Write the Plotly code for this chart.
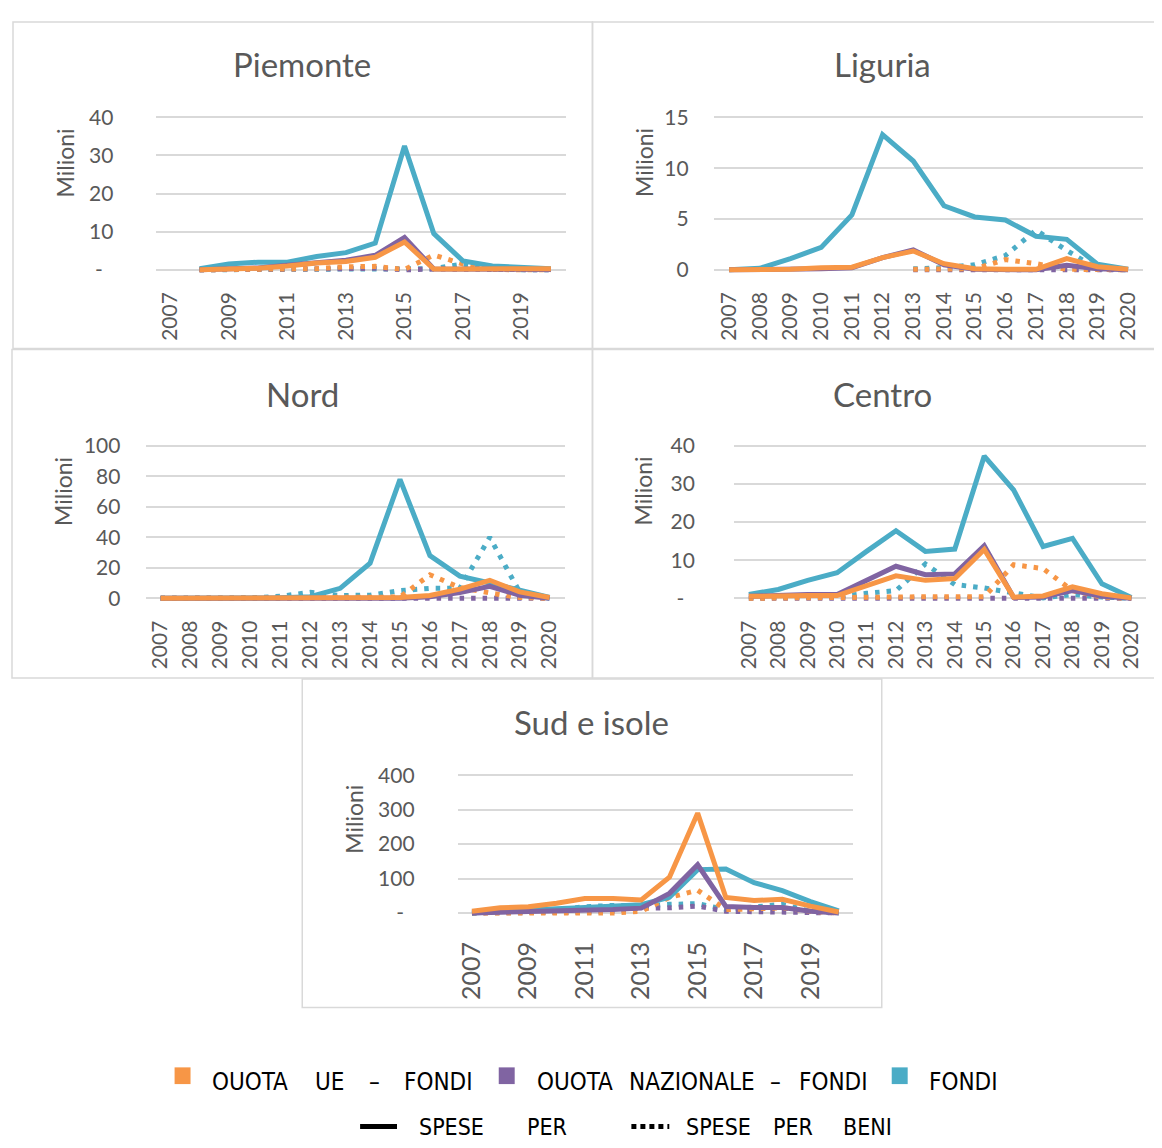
import plotly.graph_objects as go

# ---------------- DATA ----------------
years = ["2007", "2008", "2009", "2010", "2011", "2012", "2013",
         "2014", "2015", "2016", "2017", "2018", "2019", "2020"]

# Piemonte (millions)
pie_ue = [None, 0.0, 0.2, 0.4, 1.0, 1.8, 2.2, 3.3, 7.3, 0.2, 0.2, 0.2, 0.3, 0.3]
pie_naz = [None, 0.0, 0.2, 0.5, 1.2, 2.0, 2.5, 3.8, 8.5, 0.2, 0.1, 0.1, 0.1, 0.1]
pie_fondi = [None, 0.3, 1.5, 2.0, 2.0, 3.5, 4.5, 7.0, 32.5, 9.5, 2.3, 1.0, 0.5, 0.3]
pie_ue_beni = [None, 0.0, 0.0, 0.0, 0.1, 0.3, 0.8, 0.9, 0.1, 3.9, 1.5, 0.1, 0.0, 0.0]
pie_naz_beni = [None, 0.0, 0.0, 0.0, 0.1, 0.2, 0.3, 0.4, 0.0, 0.2, 0.2, 0.0, 0.0, 0.0]
pie_fondi_beni = [None, 0.0, 0.0, 0.0, 0.0, 0.0, 0.0, 0.0, 0.0, 0.3, 1.5, 0.3, 0.0, 0.0]

# Liguria
lig_ue = [0.0, 0.0, 0.05, 0.2, 0.25, 1.2, 1.85, 0.6, 0.1, 0.05, 0.05, 1.1, 0.3, 0.05]
lig_naz = [0.0, 0.0, 0.0, 0.1, 0.2, 1.2, 1.95, 0.5, 0.05, 0.0, 0.0, 0.45, 0.1, 0.0]
lig_fondi = [0.0, 0.15, 1.1, 2.2, 5.4, 13.3, 10.7, 6.3, 5.2, 4.9, 3.3, 3.0, 0.55, 0.05]
lig_ue_beni = [None, None, None, None, None, None, 0.05, 0.05, 0.1, 1.0, 0.6, 0.05, 0.0, 0.0]
lig_naz_beni = [None, None, None, None, None, None, 0.0, 0.0, 0.0, 0.0, 0.0, 0.0, 0.0, 0.0]
lig_fondi_beni = [None, None, None, None, None, None, 0.1, 0.2, 0.5, 1.4, 3.9, 1.9, 0.1, 0.0]

# Nord
nord_ue = [0.0, 0.0, 0.0, 0.0, 0.0, 0.0, 0.2, 0.3, 0.5, 1.8, 6.0, 11.8, 4.2, 0.5]
nord_naz = [0.0, 0.0, 0.0, 0.0, 0.0, 0.0, 0.0, 0.0, 0.0, 1.0, 3.8, 7.8, 2.0, 0.0]
nord_fondi = [0.0, 0.0, 0.5, 0.5, 0.3, 1.0, 6.5, 23.0, 78.0, 28.0, 14.5, 10.0, 5.0, 0.5]
nord_ue_beni = [0.0, 0.0, 0.0, 0.0, 0.0, 0.0, 0.0, 0.0, 0.8, 15.4, 7.0, 3.5, 0.5, 0.0]
nord_naz_beni = [0.0, 0.0, 0.0, 0.0, 0.0, 0.0, 0.0, 0.0, 0.0, 0.2, 0.3, 0.3, 0.3, 0.0]
nord_fondi_beni = [0.0, 0.0, 0.0, 0.0, 1.3, 3.9, 1.8, 2.0, 5.0, 6.5, 6.5, 40.0, 4.0, 0.0]

# Centro
cen_ue = [0.5, 0.7, 0.7, 0.7, 3.3, 5.9, 4.7, 5.2, 12.8, 0.3, 0.6, 3.0, 1.2, 0.1]
cen_naz = [0.5, 0.8, 1.0, 1.0, 4.8, 8.4, 6.2, 6.4, 13.8, 0.2, 0.3, 2.0, 0.5, 0.0]
cen_fondi = [1.0, 2.3, 4.7, 6.7, 12.3, 17.7, 12.3, 12.9, 37.3, 28.4, 13.6, 15.7, 3.8, 0.2]
cen_ue_beni = [0.0, 0.1, 0.1, 0.2, 0.5, 0.5, 0.4, 0.4, 0.4, 8.8, 7.8, 2.0, 0.3, 0.0]
cen_naz_beni = [0.0, 0.0, 0.0, 0.0, 0.0, 0.0, 0.0, 0.0, 0.3, 0.2, 0.2, 0.2, 0.1, 0.0]
cen_fondi_beni = [0.1, 0.2, 0.3, 0.4, 1.3, 2.0, 9.0, 3.6, 2.7, 1.4, 0.1, 1.0, 0.3, 0.0]

# Sud e isole
sud_ue = [5, 15, 18, 28, 42, 42, 38, 104, 290, 45, 36, 40, 20, 3]
sud_naz = [0, 2, 3, 5, 5, 10, 14, 57, 140, 19, 16, 16, 5, 0]
sud_fondi = [0, 5, 8, 12, 16, 21, 24, 46, 126, 128, 88, 65, 33, 6]
sud_ue_beni = [0, 0, 0, 0, 0, 0, 5, 45, 66, 10, 12, 15, 5, 0]
sud_naz_beni = [0, 0, 0, 0, 2, 5, 14, 15, 20, 5, 3, 3, 2, 0]
sud_fondi_beni = [0, 2, 5, 10, 18, 22, 20, 25, 27, 10, 18, 25, 5, 0]

titles = ["Piemonte", "Liguria", "Nord", "Centro", "Sud e isole"]
y_ticks = [[0, 10, 20, 30, 40], [0, 5, 10, 15], [0, 20, 40, 60, 80, 100],
           [0, 10, 20, 30, 40], [0, 100, 200, 300, 400]]
y_ticktext = [["-\u2002", "10", "20", "30", "40"], ["0", "5", "10", "15"],
              ["0", "20", "40", "60", "80", "100"],
              ["-\u2002", "10", "20", "30", "40"],
              ["-\u2002", "100", "200", "300", "400"]]
x_ticks_sparse = ["2007", "2009", "2011", "2013", "2015", "2017", "2019"]
legend_row1 = ["OUOTA", "UE", "\u2013", "FONDI", "OUOTA", "NAZIONALE", "\u2013", "FONDI", "FONDI"]
legend_row2 = ["SPESE", "PER", "SPESE", "PER", "BENI"]

series = [
    (pie_ue, pie_naz, pie_fondi, pie_ue_beni, pie_naz_beni, pie_fondi_beni),
    (lig_ue, lig_naz, lig_fondi, lig_ue_beni, lig_naz_beni, lig_fondi_beni),
    (nord_ue, nord_naz, nord_fondi, nord_ue_beni, nord_naz_beni, nord_fondi_beni),
    (cen_ue, cen_naz, cen_fondi, cen_ue_beni, cen_naz_beni, cen_fondi_beni),
    (sud_ue, sud_naz, sud_fondi, sud_ue_beni, sud_naz_beni, sud_fondi_beni),
]

# ---------------- LAYOUT / STYLE ----------------
W, H = 1162, 1148
OFF = 8  # the page body adds an 8px margin: compensate so the picture lines up
ORANGE, PURPLE, BLUE = "#f79646", "#8064a2", "#4bacc6"
GRID = "#d9d9d9"
TXT = "#595959"
FONT = "Lato, Open Sans, sans-serif"
LEG_FONT = "Liberation Sans Narrow, DejaVu Sans Condensed, Liberation Sans, sans-serif"


def fx(px):
    return (px - OFF) / W


def fy(py):
    return 1 - (py - OFF) / H


# plot area pixel geometry: (x_left, x_right, y_top_grid, y_zero, ymax, ytick_gap, xtick_gap, xfont, sparse)
geom = [
    (153, 564, 107, 262, 40, 40, 16, 21, True),
    (712.6, 1143.4, 107, 262, 15, 23, 16, 21, False),
    (143, 563, 441, 596, 100, 23, 16, 21, False),
    (733, 1146, 441, 596, 40, 37, 16, 21, False),
    (456, 852, 776, 916, 400, 41, 21, 25, True),
]
title_pos = [(300, 53), (882, 53), (300, 388), (882, 388), (590, 722)]
milioni_pos = [(62, 153), (642, 153), (60, 487), (642, 487), (351, 821)]
boxes = [(10, 10, 591, 342), (591, 10, 1163, 342), (9, 343, 591, 677),
         (591, 343, 1163, 677), (300, 678, 881, 1012)]

fig = go.Figure()
layout = dict(width=W, height=H, margin=dict(l=0, r=0, t=0, b=0),
              paper_bgcolor="white", plot_bgcolor="white", showlegend=False)

EXT_B, EXT_T = 4, 2
LW = 5
DOT = "4.5px,7px"

for i, ((x0, x1, yt, yz, ymax, ygap, xgap, xfont, sparse), s) in enumerate(zip(geom, series)):
    n = i + 1
    xa = "xaxis" if n == 1 else f"xaxis{n}"
    ya = "yaxis" if n == 1 else f"yaxis{n}"
    xref = "x" if n == 1 else f"x{n}"
    yref = "y" if n == 1 else f"y{n}"
    h = yz - yt
    layout[xa] = dict(domain=[fx(x0), fx(x1)], anchor=yref, type="category",
                      categoryorder="array", categoryarray=years,
                      range=[-0.5, len(years) - 0.5],
                      showgrid=False, zeroline=False, showline=False,
                      ticks="outside", ticklen=max(xgap - EXT_B - 3, 1),
                      tickcolor="rgba(0,0,0,0)", tickangle=-90,
                      tickvals=x_ticks_sparse if sparse else years,
                      tickfont=dict(family=FONT, size=xfont, color=TXT))
    layout[ya] = dict(domain=[fy(yz + EXT_B), fy(yt - EXT_T)], anchor=xref,
                      range=[-ymax * EXT_B / h, ymax * (1 + EXT_T / h)],
                      tickvals=y_ticks[i], ticktext=y_ticktext[i],
                      showgrid=True, gridcolor=GRID, gridwidth=1.5,
                      zeroline=False, showline=False,
                      ticks="outside", ticklen=ygap - 3, tickcolor="rgba(0,0,0,0)",
                      tickfont=dict(family=FONT, size=21, color=TXT))
    ue, naz, fondi, ue_b, naz_b, fondi_b = s
    for vals, col, dash in [(fondi_b, BLUE, DOT), (naz_b, PURPLE, DOT), (ue_b, ORANGE, DOT),
                            (fondi, BLUE, "solid"), (naz, PURPLE, "solid"), (ue, ORANGE, "solid")]:
        fig.add_trace(go.Scatter(x=years, y=vals, mode="lines", xaxis=xref, yaxis=yref,
                                 line=dict(color=col, width=LW, dash=dash),
                                 hoverinfo="skip"))

annotations = []
shapes = []
for (tx, ty), t in zip(title_pos, titles):
    annotations.append(dict(x=fx(tx), y=fy(ty), xref="paper", yref="paper", text=t,
                            showarrow=False, xanchor="center", yanchor="middle",
                            font=dict(family=FONT, size=33, color=TXT)))
for (mx, my) in milioni_pos:
    annotations.append(dict(x=fx(mx), y=fy(my), xref="paper", yref="paper", text="Milioni",
                            showarrow=False, textangle=-90, xanchor="center", yanchor="middle",
                            font=dict(family=FONT, size=23, color=TXT)))
for (bx0, by0, bx1, by1) in boxes:
    shapes.append(dict(type="rect", xref="paper", yref="paper", x0=fx(bx0), x1=fx(bx1),
                       y0=fy(by1), y1=fy(by0), line=dict(color=GRID, width=1.5),
                       fillcolor="rgba(0,0,0,0)", layer="below"))

# legend (drawn manually)
row1_x = [248, 327, 372, 437, 573, 691, 774, 833, 963]
row2_x = [450, 545, 717, 792, 867]
for w, lx in zip(legend_row1, row1_x):
    annotations.append(dict(x=fx(lx), y=fy(1088), xref="paper", yref="paper", text=w,
                            showarrow=False, xanchor="center", yanchor="middle",
                            font=dict(family=LEG_FONT, size=24, color="#000000")))
for w, lx in zip(legend_row2, row2_x):
    annotations.append(dict(x=fx(lx), y=fy(1149), xref="paper", yref="paper", text=w,
                            showarrow=False, xanchor="center", yanchor="bottom",
                            font=dict(family=LEG_FONT, size=23, color="#000000")))
for (sx, col) in [(172, ORANGE), (497, PURPLE), (891, BLUE)]:
    shapes.append(dict(type="rect", xref="paper", yref="paper", x0=fx(sx), x1=fx(sx + 16),
                       y0=fy(1090), y1=fy(1073), fillcolor=col, line=dict(width=0)))
shapes.append(dict(type="line", xref="paper", yref="paper", x0=fx(358), x1=fx(395),
                   y0=fy(1133), y1=fy(1133), line=dict(color="black", width=5)))
shapes.append(dict(type="line", xref="paper", yref="paper", x0=fx(630), x1=fx(668),
                   y0=fy(1133), y1=fy(1133), line=dict(color="black", width=5, dash="5px,4px")))

layout["annotations"] = annotations
layout["shapes"] = shapes
fig.update_layout(**layout)
fig.write_html("out.html")
